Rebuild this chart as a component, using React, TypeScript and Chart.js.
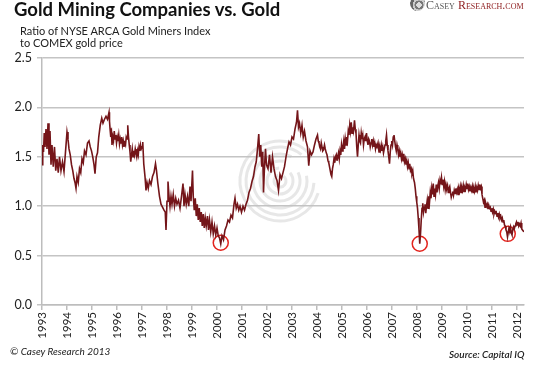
import { useEffect, useRef } from "react";
import { Chart, registerables } from "chart.js";

Chart.register(...registerables);

// 1993 – mid 1995
const datesA = [
  1993.00, 1993.03, 1993.06, 1993.09, 1993.12, 1993.16, 1993.20, 1993.24, 1993.28, 1993.32,
  1993.36, 1993.40, 1993.45, 1993.50, 1993.55, 1993.60, 1993.65, 1993.70, 1993.76, 1993.82,
  1993.88, 1993.94, 1994.00, 1994.04, 1994.08, 1994.13, 1994.18, 1994.23, 1994.28, 1994.32,
  1994.36, 1994.40, 1994.45, 1994.50, 1994.55, 1994.60, 1994.65, 1994.70, 1994.76, 1994.82,
  1994.88, 1994.93, 1994.98, 1995.03, 1995.08, 1995.12, 1995.17, 1995.22, 1995.27, 1995.33,
  1995.39, 1995.44, 1995.50, 1995.56, 1995.62, 1995.68,
];
const ratioA = [
  1.42, 1.62, 1.55, 1.74, 1.60, 1.78, 1.58, 1.84, 1.52, 1.76,
  1.42, 1.62, 1.40, 1.60, 1.36, 1.48, 1.34, 1.50, 1.36, 1.45,
  1.35, 1.55, 1.75, 1.68, 1.58, 1.52, 1.42, 1.36, 1.28, 1.24,
  1.18, 1.30, 1.24, 1.38, 1.34, 1.48, 1.44, 1.56, 1.52, 1.64,
  1.66, 1.60, 1.56, 1.50, 1.42, 1.33, 1.50, 1.54, 1.70, 1.82,
  1.89, 1.84, 1.88, 1.91, 1.88, 1.95,
];

// mid 1995 – early 1997
const datesB = [
  1995.70, 1995.72, 1995.75, 1995.78, 1995.80, 1995.83, 1995.86, 1995.89, 1995.92, 1995.95,
  1995.98, 1996.01, 1996.04, 1996.07, 1996.10, 1996.13, 1996.16, 1996.19, 1996.22, 1996.25,
  1996.28, 1996.31, 1996.34, 1996.37, 1996.40, 1996.43, 1996.46, 1996.49, 1996.52, 1996.55,
  1996.58, 1996.61, 1996.64, 1996.67, 1996.70, 1996.73, 1996.76, 1996.79, 1996.82, 1996.85,
  1996.88, 1996.91, 1996.94, 1996.97, 1997.00, 1997.03,
];
const ratioB = [
  1.86, 1.79, 1.70, 1.74, 1.62, 1.70, 1.66, 1.76, 1.68, 1.72,
  1.64, 1.70, 1.66, 1.72, 1.63, 1.68, 1.64, 1.70, 1.62, 1.66,
  1.60, 1.64, 1.62, 1.70, 1.68, 1.82, 1.70, 1.62, 1.55, 1.45,
  1.52, 1.58, 1.50, 1.56, 1.52, 1.58, 1.54, 1.50, 1.56, 1.52,
  1.60, 1.56, 1.62, 1.58, 1.60, 1.65,
];

// 1997 – 2003
const datesC = [
  1997.07, 1997.12, 1997.16, 1997.20, 1997.25, 1997.30, 1997.36, 1997.42, 1997.48, 1997.54,
  1997.58, 1997.63, 1997.70, 1997.76, 1997.82, 1997.88, 1997.93, 1997.96, 1998.00, 1998.04,
  1998.08, 1998.12, 1998.16, 1998.20, 1998.25, 1998.30, 1998.35, 1998.40, 1998.46, 1998.52,
  1998.58, 1998.64, 1998.68, 1998.72, 1998.77, 1998.82, 1998.87, 1998.92, 1998.96, 1999.02,
  1999.05, 1999.09, 1999.13, 1999.17, 1999.21, 1999.25, 1999.29, 1999.33, 1999.37, 1999.41,
  1999.45, 1999.49, 1999.53, 1999.57, 1999.62, 1999.66, 1999.70, 1999.75, 1999.80, 1999.85,
  1999.90, 1999.95, 2000.00, 2000.05, 2000.10, 2000.15, 2000.20, 2000.26, 2000.32, 2000.38,
  2000.44, 2000.50, 2000.56, 2000.62, 2000.68, 2000.72, 2000.77, 2000.82, 2000.87, 2000.92,
  2000.98, 2001.04, 2001.10, 2001.16, 2001.22, 2001.28, 2001.34, 2001.40, 2001.46, 2001.52,
  2001.57, 2001.62, 2001.67, 2001.71, 2001.75, 2001.79, 2001.83, 2001.86, 2001.90, 2001.94,
  2001.98, 2002.04, 2002.10, 2002.16, 2002.22, 2002.28, 2002.34, 2002.40, 2002.46, 2002.52,
  2002.58, 2002.64, 2002.70, 2002.76, 2002.82, 2002.88, 2002.94, 2003.00, 2003.06, 2003.12,
  2003.18, 2003.22, 2003.26, 2003.30, 2003.35, 2003.40, 2003.45, 2003.50, 2003.56, 2003.62,
  2003.67, 2003.72, 2003.78, 2003.84, 2003.90, 2003.96,
];
const ratioC = [
  1.43, 1.30, 1.16, 1.24, 1.18, 1.26, 1.22, 1.30, 1.34, 1.43,
  1.36, 1.24, 1.10, 1.02, 0.99, 0.96, 0.94, 0.76, 1.05, 1.25,
  1.10, 1.00, 1.10, 1.02, 1.12, 1.00, 1.08, 1.02, 1.06, 0.98,
  1.10, 1.23, 1.00, 1.12, 1.02, 1.10, 1.00, 1.20, 1.05, 1.36,
  1.10, 0.96, 1.08, 0.90, 1.02, 0.86, 0.98, 0.84, 0.94, 0.80,
  0.92, 0.78, 0.88, 0.80, 0.90, 0.76, 0.86, 0.74, 0.84, 0.72,
  0.80, 0.71, 0.78, 0.70, 0.68, 0.62, 0.70, 0.66, 0.76, 0.80,
  0.86, 0.84, 0.91, 0.88, 1.02, 1.08, 0.98, 1.02, 0.96, 1.00,
  0.94, 1.00, 0.96, 1.02, 1.06, 1.14, 1.18, 1.25, 1.30, 1.40,
  1.45, 1.58, 1.73, 1.50, 1.62, 1.40, 1.55, 1.14, 1.40, 1.58,
  1.42, 1.38, 1.52, 1.34, 1.50, 1.38, 1.30, 1.26, 1.16, 1.32,
  1.28, 1.34, 1.40, 1.50, 1.58, 1.65, 1.62, 1.70, 1.68, 1.78,
  1.85, 1.97, 1.80, 1.84, 1.74, 1.82, 1.70, 1.76, 1.66, 1.60,
  1.41, 1.56, 1.52, 1.55, 1.62, 1.68,
];

// 2004 – 2008 crash
const datesD = [
  2004.02, 2004.05, 2004.08, 2004.11, 2004.14, 2004.17, 2004.20, 2004.23, 2004.26, 2004.30,
  2004.33, 2004.37, 2004.40, 2004.44, 2004.47, 2004.50, 2004.53, 2004.56, 2004.59, 2004.62,
  2004.65, 2004.68, 2004.71, 2004.74, 2004.77, 2004.80, 2004.83, 2004.86, 2004.89, 2004.92,
  2004.95, 2004.98, 2005.01, 2005.04, 2005.07, 2005.10, 2005.13, 2005.16, 2005.19, 2005.22,
  2005.25, 2005.28, 2005.31, 2005.34, 2005.37, 2005.40, 2005.43, 2005.46, 2005.50, 2005.53,
  2005.56, 2005.59, 2005.62, 2005.65, 2005.68, 2005.71, 2005.74, 2005.77, 2005.80, 2005.83,
  2005.86, 2005.89, 2005.92, 2005.95, 2005.98, 2006.01, 2006.04, 2006.07, 2006.10, 2006.13,
  2006.16, 2006.19, 2006.22, 2006.25, 2006.28, 2006.31, 2006.34, 2006.37, 2006.40, 2006.44,
  2006.48, 2006.51, 2006.54, 2006.57, 2006.60, 2006.63, 2006.66, 2006.69, 2006.72, 2006.75,
  2006.78, 2006.81, 2006.84, 2006.87, 2006.90, 2006.93, 2006.96, 2006.99, 2007.02, 2007.05,
  2007.08, 2007.11, 2007.14, 2007.17, 2007.20, 2007.23, 2007.26, 2007.29, 2007.32, 2007.35,
  2007.38, 2007.41, 2007.44, 2007.47, 2007.50, 2007.53, 2007.56, 2007.59, 2007.62, 2007.65,
  2007.68, 2007.71, 2007.74, 2007.77, 2007.80, 2007.83, 2007.86, 2007.90, 2007.93, 2007.96,
  2007.99, 2008.02, 2008.05, 2008.08, 2008.11, 2008.14, 2008.17, 2008.20, 2008.23, 2008.26,
];
const ratioD = [
  1.72, 1.66, 1.64, 1.60, 1.58, 1.64, 1.60, 1.56, 1.57, 1.62,
  1.58, 1.54, 1.52, 1.46, 1.44, 1.40, 1.36, 1.32, 1.30, 1.38,
  1.42, 1.48, 1.44, 1.50, 1.52, 1.46, 1.50, 1.54, 1.48, 1.56,
  1.52, 1.62, 1.56, 1.60, 1.66, 1.58, 1.68, 1.62, 1.70, 1.66,
  1.76, 1.72, 1.82, 1.76, 1.85, 1.74, 1.80, 1.76, 1.87, 1.78,
  1.74, 1.60, 1.50, 1.62, 1.72, 1.66, 1.64, 1.74, 1.68, 1.72,
  1.62, 1.68, 1.70, 1.66, 1.74, 1.66, 1.62, 1.68, 1.66, 1.60,
  1.64, 1.68, 1.62, 1.66, 1.60, 1.64, 1.58, 1.62, 1.60, 1.64,
  1.55, 1.60, 1.57, 1.62, 1.56, 1.60, 1.54, 1.58, 1.62, 1.66,
  1.72, 1.62, 1.56, 1.50, 1.43, 1.55, 1.62, 1.66, 1.62, 1.70,
  1.72, 1.66, 1.60, 1.56, 1.62, 1.58, 1.52, 1.56, 1.50, 1.54,
  1.48, 1.52, 1.46, 1.53, 1.45, 1.48, 1.42, 1.46, 1.40, 1.44,
  1.38, 1.43, 1.36, 1.38, 1.33, 1.36, 1.28, 1.24, 1.18, 1.10,
  1.04, 0.98, 0.88, 0.76, 0.62, 0.72, 0.86, 0.98, 1.03, 0.94,
];

// 2008 recovery – 2012
const datesE = [
  2008.29, 2008.32, 2008.35, 2008.38, 2008.41, 2008.44, 2008.47, 2008.50, 2008.53, 2008.56,
  2008.59, 2008.62, 2008.65, 2008.68, 2008.71, 2008.74, 2008.77, 2008.80, 2008.83, 2008.86,
  2008.89, 2008.92, 2008.95, 2008.98, 2009.01, 2009.04, 2009.07, 2009.10, 2009.13, 2009.16,
  2009.19, 2009.22, 2009.25, 2009.28, 2009.31, 2009.34, 2009.37, 2009.40, 2009.43, 2009.46,
  2009.49, 2009.52, 2009.55, 2009.58, 2009.61, 2009.64, 2009.67, 2009.70, 2009.73, 2009.76,
  2009.79, 2009.82, 2009.85, 2009.88, 2009.91, 2009.94, 2009.97, 2010.00, 2010.03, 2010.06,
  2010.09, 2010.12, 2010.15, 2010.18, 2010.21, 2010.24, 2010.27, 2010.30, 2010.33, 2010.36,
  2010.39, 2010.42, 2010.45, 2010.48, 2010.51, 2010.54, 2010.57, 2010.60, 2010.63, 2010.66,
  2010.69, 2010.72, 2010.75, 2010.78, 2010.81, 2010.84, 2010.87, 2010.90, 2010.93, 2010.96,
  2010.99, 2011.02, 2011.05, 2011.08, 2011.11, 2011.14, 2011.17, 2011.20, 2011.23, 2011.26,
  2011.29, 2011.32, 2011.35, 2011.38, 2011.41, 2011.44, 2011.47, 2011.50, 2011.53, 2011.56,
  2011.59, 2011.62, 2011.65, 2011.68, 2011.71, 2011.74, 2011.77, 2011.80, 2011.83, 2011.86,
  2011.89, 2011.92, 2011.95, 2011.98, 2012.01, 2012.04, 2012.07, 2012.10, 2012.13, 2012.16,
  2012.19, 2012.22, 2012.25, 2012.28,
];
const ratioE = [
  0.99, 1.02, 0.93, 1.00, 1.06, 0.98, 1.10, 1.04, 1.14, 1.08,
  1.18, 1.12, 1.23, 1.10, 1.18, 1.12, 1.22, 1.14, 1.20, 1.24,
  1.18, 1.26, 1.22, 1.29, 1.22, 1.27, 1.20, 1.25, 1.17, 1.22,
  1.18, 1.21, 1.14, 1.18, 1.20, 1.14, 1.09, 1.12, 1.15, 1.11,
  1.16, 1.13, 1.18, 1.14, 1.17, 1.12, 1.18, 1.15, 1.20, 1.14,
  1.19, 1.16, 1.21, 1.15, 1.19, 1.17, 1.22, 1.18, 1.23, 1.17,
  1.20, 1.15, 1.19, 1.16, 1.20, 1.14, 1.18, 1.15, 1.20, 1.14,
  1.19, 1.16, 1.21, 1.17, 1.22, 1.18, 1.20, 1.12, 1.08, 1.04,
  1.06, 0.99, 1.03, 1.00, 1.02, 0.97, 1.01, 0.98, 0.99, 0.95,
  0.98, 0.94, 0.97, 0.92, 0.95, 0.93, 0.94, 0.90, 0.93, 0.89,
  0.92, 0.88, 0.90, 0.86, 0.88, 0.84, 0.86, 0.81, 0.80, 0.76,
  0.74, 0.69, 0.74, 0.78, 0.76, 0.79, 0.73, 0.71, 0.76, 0.79,
  0.77, 0.80, 0.82, 0.84, 0.81, 0.84, 0.80, 0.82, 0.80, 0.83,
  0.77, 0.76, 0.75, 0.74,
];

const dates = [...datesA, ...datesB, ...datesC, ...datesD, ...datesE];
const ratio = [...ratioA, ...ratioB, ...ratioC, ...ratioD, ...ratioE];

const lowDates = [2000.15, 2008.11, 2011.63];
const lowValues = [0.63, 0.62, 0.72];

const yearTicks = [
  1993, 1994, 1995, 1996, 1997, 1998, 1999, 2000, 2001, 2002,
  2003, 2004, 2005, 2006, 2007, 2008, 2009, 2010, 2011, 2012,
];
const valueTicks = [0, 0.5, 1.0, 1.5, 2.0, 2.5];

const titleText = "Gold Mining Companies vs. Gold";
const subtitleLines = ["Ratio of NYSE ARCA Gold Miners Index", "to COMEX gold price"];
const copyrightText = "© Casey Research 2013";
const sourceText = "Source: Capital IQ";

export default function App() {
  const ref = useRef<HTMLCanvasElement>(null);

  useEffect(() => {
    if (!ref.current) return;
    const watermark = {
      id: "watermark",
      beforeDatasetsDraw(chart: any) {
        const ctx = chart.ctx;
        const cx = 280;
        const cy = 181;
        ctx.save();
        ctx.strokeStyle = "rgba(195,195,195,0.4)";
        ctx.lineWidth = 3;
        const radii = [6, 13, 20, 27, 34, 40];
        radii.forEach((r, i) => {
          ctx.beginPath();
          const start = -Math.PI * 0.3 + i * 0.25;
          ctx.arc(cx, cy, r, start, start + Math.PI * 1.7);
          ctx.stroke();
        });
        ctx.restore();
      },
    };

    const chart = new Chart(ref.current, {
      type: "line",
      data: {
        datasets: [
          {
            data: dates.map((d, i) => ({ x: d, y: ratio[i] })),
            borderColor: "#741519",
            borderWidth: 1.6,
            pointRadius: 0,
            tension: 0,
            fill: false,
          },
          {
            type: "scatter",
            data: lowDates.map((d, i) => ({ x: d, y: lowValues[i] })),
            pointRadius: 7.5,
            pointBorderColor: "#e3231d",
            pointBackgroundColor: "rgba(0,0,0,0)",
            pointBorderWidth: 1.5,
            showLine: false,
          } as any,
        ],
      },
      options: {
        responsive: false,
        animation: false,
        layout: { padding: { left: 0, right: 18, top: 58, bottom: 0 } },
        plugins: { legend: { display: false }, tooltip: { enabled: false } },
        scales: {
          x: {
            type: "linear",
            min: 1993,
            max: 2012.28,
            afterBuildTicks: (s: any) => {
              s.ticks = yearTicks.map((v) => ({ value: v }));
            },
            afterFit: (s: any) => {
              s.height = 60;
            },
            grid: {
              drawOnChartArea: false,
              drawTicks: true,
              tickLength: 5,
              color: "#bdbdbd",
              lineWidth: 1.5,
            },
            border: { display: true, color: "#bdbdbd", width: 1.5 },
            ticks: {
              minRotation: 90,
              maxRotation: 90,
              autoSkip: false,
              padding: 2,
              color: "#222",
              font: { family: "Lato", size: 11.5 },
              callback: (v: any) => String(v),
            },
          },
          y: {
            min: 0,
            max: 2.5,
            afterBuildTicks: (s: any) => {
              s.ticks = valueTicks.map((v) => ({ value: v }));
            },
            afterFit: (s: any) => {
              s.width = 42;
            },
            grid: {
              color: "#c4c4c4",
              lineWidth: 1.5,
              tickLength: 5,
            },
            border: { display: true, color: "#bdbdbd", width: 1.5 },
            ticks: {
              padding: 5,
              color: "#222",
              font: { family: "Lato", size: 12.5 },
              callback: (v: any) => Number(v).toFixed(1),
            },
          },
        },
      },
      plugins: [watermark],
    } as any);
    return () => chart.destroy();
  }, []);

  return (
    <div
      style={{
        position: "fixed",
        left: 0,
        top: 0,
        width: 542,
        height: 365,
        background: "#fff",
        overflow: "hidden",
        fontFamily: "Lato, sans-serif",
      }}
    >
      <canvas ref={ref} width={542} height={365} style={{ position: "absolute", left: 0, top: 0 }} />
      <div
        style={{
          position: "absolute",
          left: 14,
          top: -2,
          fontSize: 18.5,
          fontWeight: 700,
          color: "#111",
          whiteSpace: "nowrap",
        }}
      >
        {titleText}
      </div>
      <div
        style={{
          position: "absolute",
          left: 20,
          top: 25,
          fontSize: 11,
          lineHeight: "12px",
          color: "#222",
          whiteSpace: "nowrap",
        }}
      >
        {subtitleLines.map((l, i) => (
          <div key={i}>{l}</div>
        ))}
      </div>
      <div
        style={{
          position: "absolute",
          left: 410,
          top: -4,
          width: 15,
          height: 15,
          borderRadius: "50%",
          background:
            "radial-gradient(circle at 60% 60%, #ddd 0 20%, #777 21% 35%, #ccc 36% 50%, #666 51% 70%, #aaa 71%)",
        }}
      />
      <div
        style={{
          position: "absolute",
          left: 426,
          top: -2,
          fontFamily: "'Liberation Serif', serif",
          fontVariant: "small-caps",
          fontSize: 12,
          whiteSpace: "nowrap",
        }}
      >
        <span style={{ color: "#555" }}>Casey </span>
        <span style={{ color: "#8d1b1d" }}>Research.com</span>
      </div>
      <div
        style={{
          position: "absolute",
          left: 10,
          top: 345,
          fontSize: 10,
          fontStyle: "italic",
          color: "#222",
          whiteSpace: "nowrap",
        }}
      >
        {copyrightText}
      </div>
      <div
        style={{
          position: "absolute",
          left: 449,
          top: 348,
          fontSize: 10,
          fontStyle: "italic",
          fontWeight: 600,
          color: "#222",
          whiteSpace: "nowrap",
        }}
      >
        {sourceText}
      </div>
    </div>
  );
}
